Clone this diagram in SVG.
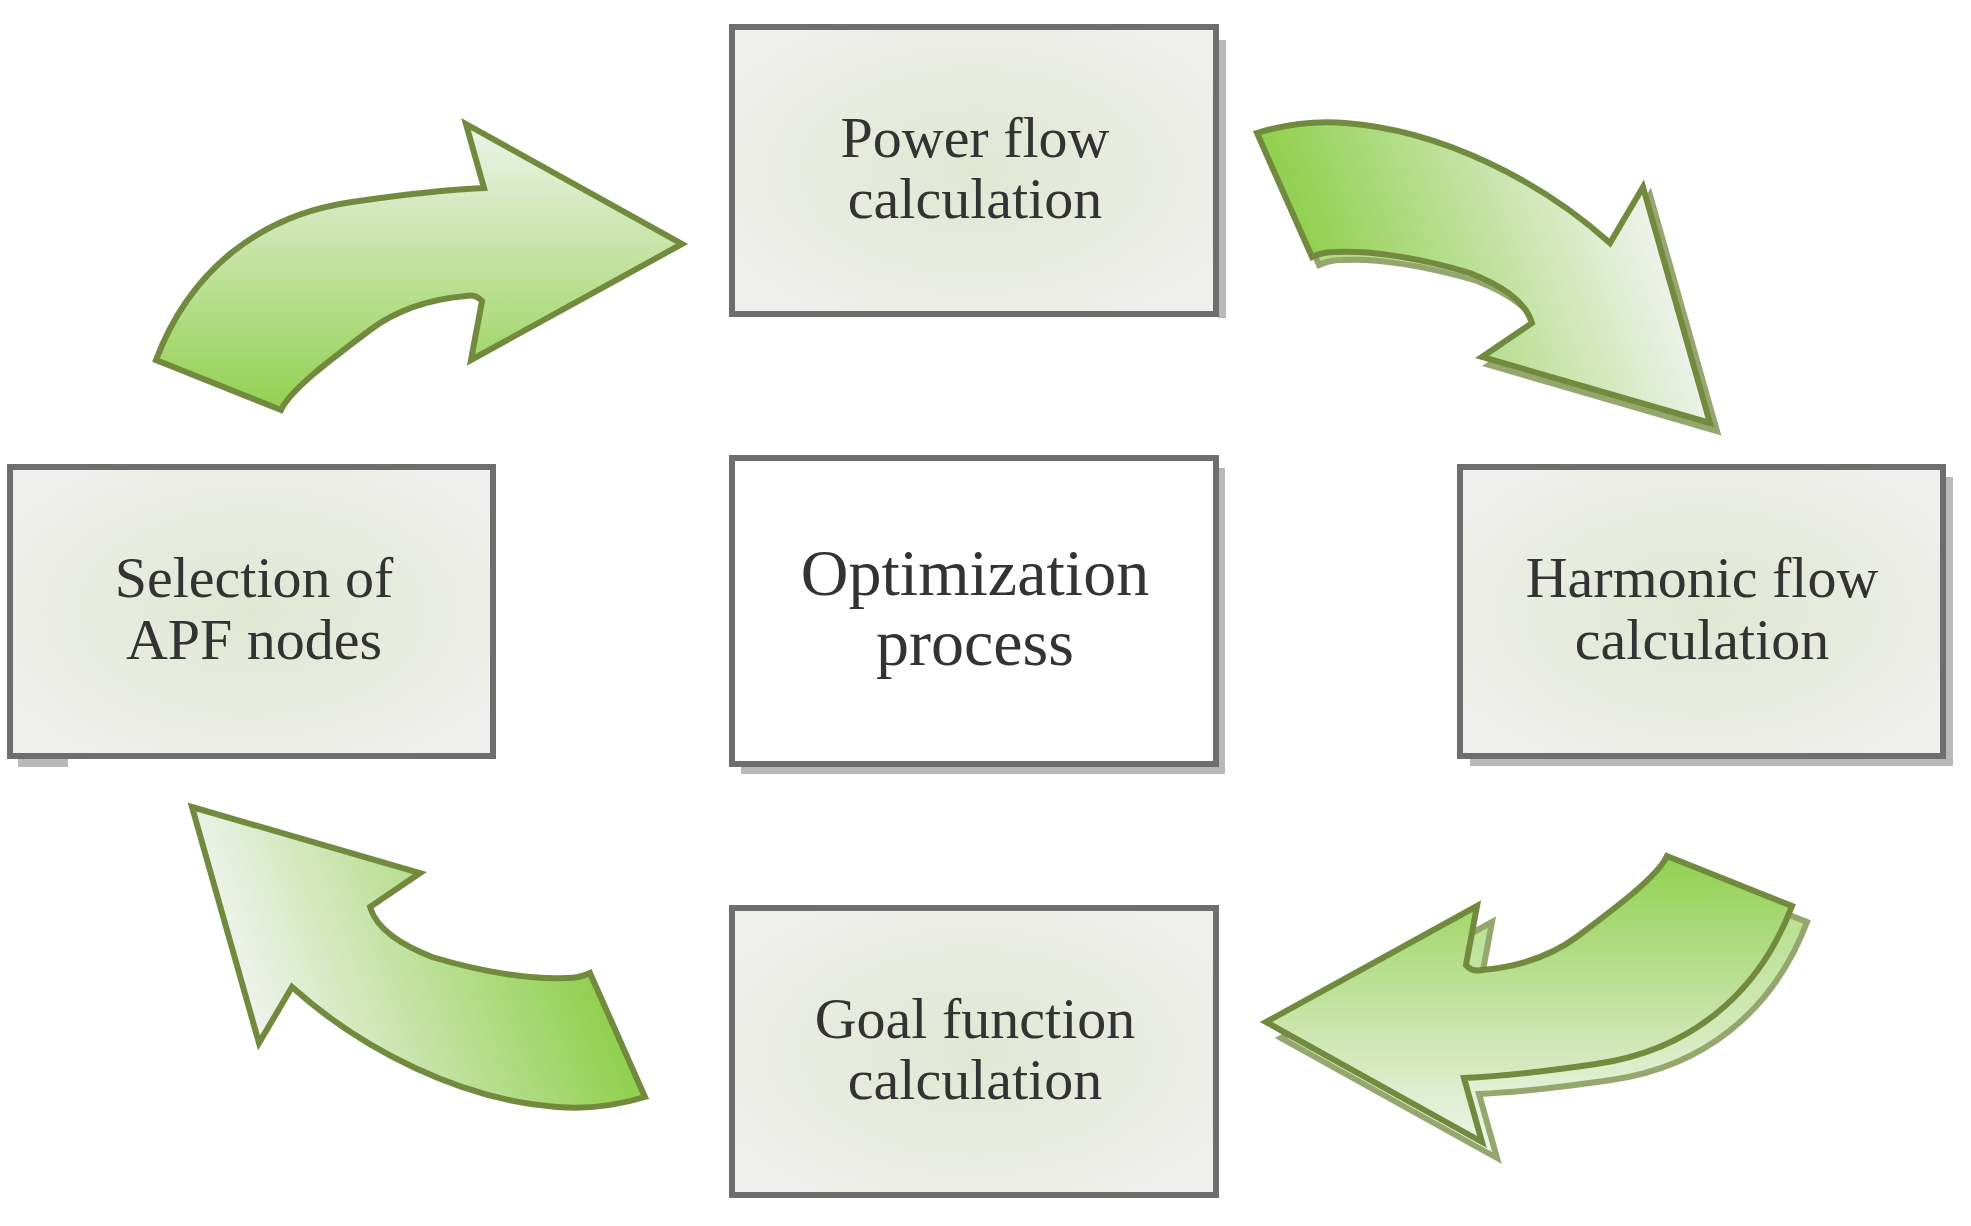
<svg xmlns="http://www.w3.org/2000/svg" xmlns:xlink="http://www.w3.org/1999/xlink" width="1971" height="1226" viewBox="0 0 1971 1226">
<defs>
<style>
.box{stroke:#6e6e6e;stroke-width:6;fill:url(#boxg)}
.sh{fill:#a0a0a0;opacity:0.75}
.arr{stroke:#728a3e;stroke-width:6;stroke-linejoin:miter}
.t{font-family:"Liberation Serif","DejaVu Serif",serif;fill:#333;text-anchor:middle;font-size:58px}
.big{font-size:66px}
</style>
<radialGradient id="boxg" cx="0.5" cy="0.5" r="0.6">
<stop offset="0" stop-color="#dfe7d2"/>
<stop offset="1" stop-color="#efefed"/>
</radialGradient>
<linearGradient id="ga" gradientUnits="userSpaceOnUse" x1="0" y1="124" x2="0" y2="410">
<stop offset="0" stop-color="#eef3ea"/>
<stop offset="1" stop-color="#92d050"/>
</linearGradient>
<linearGradient id="gb" gradientUnits="userSpaceOnUse" x1="1310" y1="250" x2="1620" y2="140">
<stop offset="0" stop-color="#92d050"/>
<stop offset="1" stop-color="#eef2ea"/>
</linearGradient>
<path id="arrA" class="arr" fill="url(#ga)" d="M156,360 C190,270 260,215 352,202 C400,195 440,190 484,188 L466,124 L682,244 L471,360 L482,301 C476,294 470,295 466,296 C420,300 390,315 370,330 C330,360 290,390 281,410 Z"/>
<path id="arrB" class="arr" fill="url(#gb)" d="M1257,133 C1290,123 1320,121 1345,123 C1440,130 1540,180 1610,243 L1643,187 L1710,423 L1482,357 L1532,323 C1525,300 1500,285 1470,273 C1420,258 1370,250 1335,252 C1325,252 1318,254 1312,257 Z"/>
</defs>
<g id="shadows">
<rect class="sh" x="1218" y="40" width="8" height="278"/>
<rect class="sh" x="741" y="468" width="484" height="306"/>
<rect class="sh" x="1470" y="477" width="483" height="289"/>
<rect class="sh" x="18" y="759" width="50" height="8"/>
<use xlink:href="#arrB" transform="translate(7,8)" class="sh" style="fill:#a0a0a0;stroke:none"/>
</g>
<g id="connectors">
<use id="arrow-select-power" xlink:href="#arrA"/>
<use id="arrow-power-harmonic" xlink:href="#arrB"/>
<g transform="translate(1955,1274) scale(-1,-1)"><use xlink:href="#arrA" class="sh" transform="translate(-8,-8)" style="fill:#a0a0a0"/></g>
<use id="arrow-harmonic-goal" xlink:href="#arrA" transform="translate(1948,1266) scale(-1,-1)"/>
<use id="arrow-goal-select" xlink:href="#arrB" transform="translate(1902,1230) scale(-1,-1)"/>
</g>
<g id="power">
<rect class="box" x="732" y="27" width="484" height="287"/>
<text class="t" x="975" y="157">Power flow</text>
<text class="t" x="975" y="218">calculation</text>
</g>
<g id="optimization">
<rect class="box" x="732" y="458" width="484" height="306" style="fill:#fff"/>
<text class="t big" x="975" y="595">Optimization</text>
<text class="t big" x="975" y="665">process</text>
</g>
<g id="harmonic">
<rect class="box" x="1460" y="467" width="483" height="289"/>
<text class="t" x="1702" y="597">Harmonic flow</text>
<text class="t" x="1702" y="659">calculation</text>
</g>
<g id="selection">
<rect class="box" x="10" y="467" width="483" height="289"/>
<text class="t" x="254" y="597">Selection of</text>
<text class="t" x="254" y="659">APF nodes</text>
</g>
<g id="goal">
<rect class="box" x="732" y="908" width="484" height="287"/>
<text class="t" x="975" y="1038">Goal function</text>
<text class="t" x="975" y="1099">calculation</text>
</g>
</svg>
